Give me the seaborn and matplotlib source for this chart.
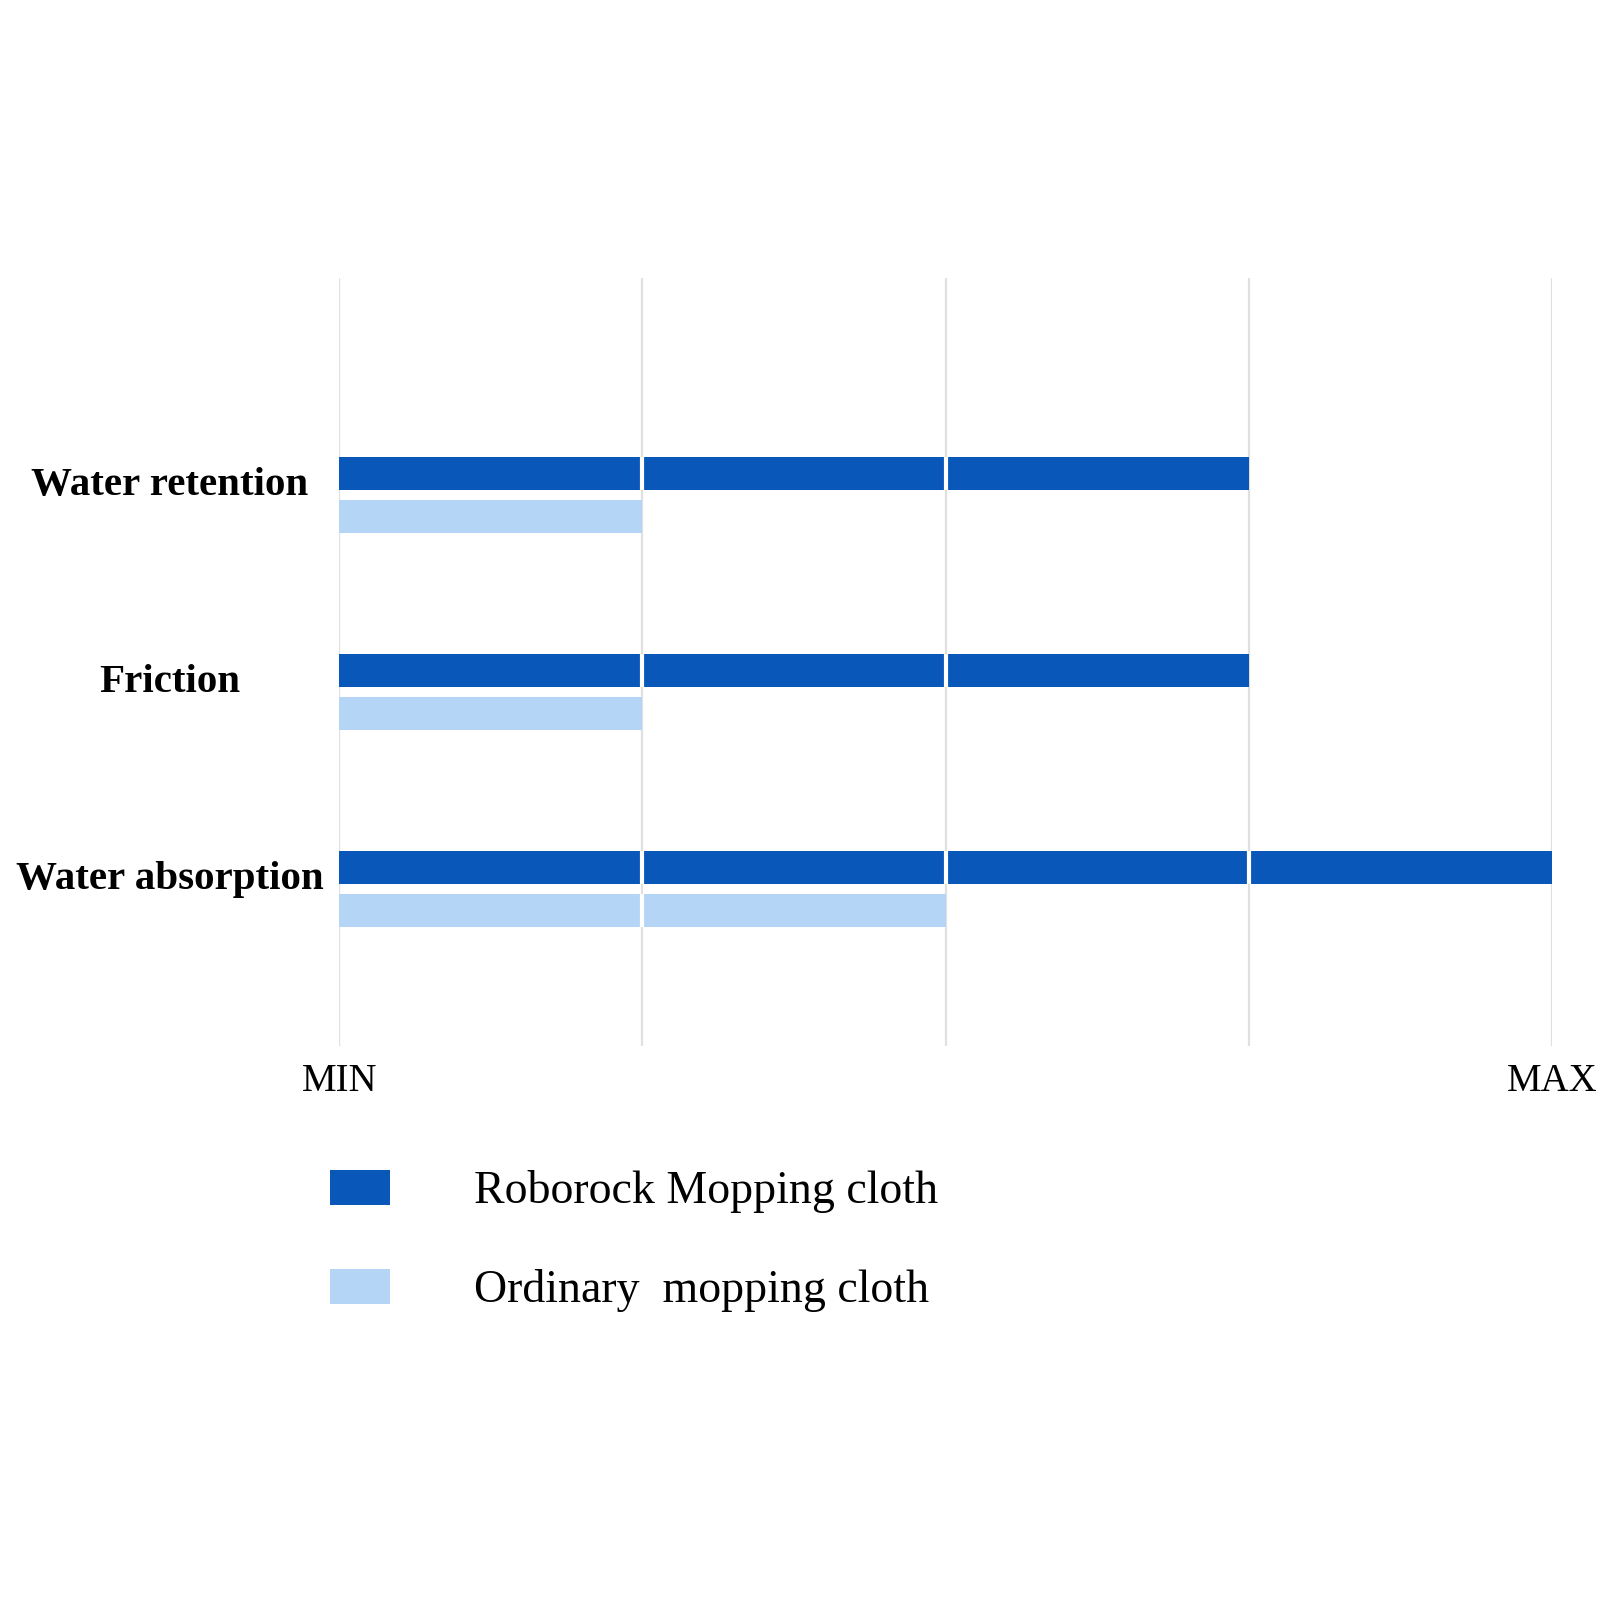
import numpy as np
import pandas as pd
import seaborn as sns
import matplotlib.pyplot as plt

# chart values (scale runs from MIN=0 to MAX=4)
properties = ["Water retention", "Friction", "Water absorption"]
roborock_scores = [3, 3, 4]
ordinary_scores = [1, 1, 2]
series_names = ["Roborock Mopping cloth", "Ordinary  mopping cloth"]
tick_values = [0, 1, 2, 3, 4]
tick_labels = ["MIN", "", "", "", "MAX"]

dark_blue = "#0A57BA"
light_blue = "#B5D5F6"

df = pd.DataFrame({
    "property": properties * 2,
    "score": roborock_scores + ordinary_scores,
    "cloth": [series_names[0]] * len(properties) + [series_names[1]] * len(properties),
})

sns.set_style("white")
plt.rcParams["font.family"] = ["Liberation Serif", "DejaVu Serif"]
plt.rcParams["text.color"] = "black"
plt.rcParams["xtick.color"] = "black"
plt.rcParams["ytick.color"] = "black"

fig = plt.figure(figsize=(16, 16), dpi=100)
ax = fig.add_axes([0.212, 0.346, 0.758, 0.48])

sns.barplot(
    data=df, y="property", x="score", hue="cloth", orient="h",
    palette=[dark_blue, light_blue], saturation=1, width=0.435, gap=0.24,
    linewidth=0, legend=True, ax=ax,
)

ax.set_xlim(0, 4)
ax.set_ylim(2.80, -1.10)
ax.set_xticks(tick_values)
ax.set_xticklabels(tick_labels, fontsize=28)
ax.set_xlabel("")
ax.set_ylabel("")
ax.xaxis.grid(True, color="#e0e0e0", linewidth=1.6)
ax.yaxis.grid(False)
ax.set_axisbelow(True)
sns.despine(ax=ax, left=True, bottom=True)
ax.tick_params(axis="x", length=0, pad=12)
ax.tick_params(axis="y", length=0, pad=122)
for lab in ax.get_yticklabels():
    lab.set_fontsize(29.5)
    lab.set_fontweight("bold")
    lab.set_horizontalalignment("center")
    lab.set_verticalalignment("baseline")

# white breaks where the gridlines cross the bars
for bar in ax.patches:
    w = bar.get_width()
    if w <= 0:
        continue
    for gx in tick_values[1:]:
        if gx < w:
            ax.vlines(gx, bar.get_y(), bar.get_y() + bar.get_height(),
                      color="white", linewidth=3, zorder=5)

handles, labels = ax.get_legend_handles_labels()
ax.get_legend().remove()
fig.legend(
    handles, labels, loc="upper left", bbox_to_anchor=(0.192, 0.283),
    frameon=False, fontsize=33, handlelength=1.3, handleheight=0.78,
    handletextpad=1.85, labelspacing=1.22, borderpad=0,
)

fig.savefig("out.png", dpi=100, facecolor="white")
